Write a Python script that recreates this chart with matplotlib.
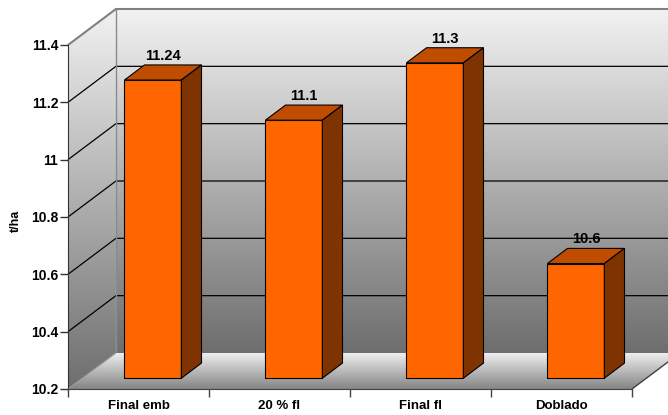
import numpy as np
import matplotlib.pyplot as plt
from matplotlib.patches import Polygon
from matplotlib.colors import LinearSegmentedColormap

# ---- data ----
categories = ["Final emb", "20 % fl", "Final fl", "Doblado"]
values = [11.24, 11.1, 11.3, 10.6]
value_labels = ["11.24", "11.1", "11.3", "10.6"]
y_ticks = [10.2, 10.4, 10.6, 10.8, 11.0, 11.2, 11.4]
y_tick_labels = ["10.2", "10.4", "10.6", "10.8", "11", "11.2", "11.4"]
y_label = "t/ha"

# ---- 3d look ----
Y_MIN, Y_MAX = 10.2, 11.4
N = len(categories)
DX, DY = 0.34, 0.1256          # depth offset of the back wall (data units)
BAR_W = 0.404
BAR_Z0, BAR_DZ = 0.30, 0.42    # bar position / thickness in depth
FRONT, TOP, SIDE = "#FF6600", "#C04C00", "#7F3300"
WALL = ["#6E6E6E", "#F2F2F2"]
FLOOR = ["#848484", "#F2F2F2"]

plt.rcParams["font.family"] = ["Liberation Sans", "DejaVu Sans"]
plt.rcParams["font.weight"] = "bold"

fig = plt.figure(figsize=(6.68, 4.15), dpi=100)
ax = fig.add_axes([68 / 668, 26 / 415, 564 / 668, 344 / 415])
ax.set_xlim(0, N)
ax.set_ylim(Y_MIN, Y_MAX)
ax.set_autoscale_on(False)
ax.patch.set_visible(False)


def shade(pts, y0, y1, x0, x1, colors, z):
    clip = Polygon(pts, closed=True, transform=ax.transData)
    cmap = LinearSegmentedColormap.from_list("g", colors)
    grad = np.linspace(0, 1, 256).reshape(-1, 1)
    im = ax.imshow(grad, cmap=cmap, extent=(x0, x1, y0, y1), origin="lower",
                   aspect="auto", interpolation="bilinear", zorder=z)
    im.set_clip_path(clip)
    im.set_clip_box(fig.bbox)


def line(xs, ys, **kw):
    ax.plot(xs, ys, clip_on=False, solid_capstyle="butt", **kw)


right = N + 2 * DX
# back wall
shade([(DX, Y_MIN + DY), (right, Y_MIN + DY), (right, Y_MAX + DY), (DX, Y_MAX + DY)],
      Y_MIN + DY, Y_MAX + DY, DX, right, WALL, 0)
# side wall
shade([(0, Y_MIN), (DX, Y_MIN + DY), (DX, Y_MAX + DY), (0, Y_MAX)],
      Y_MIN, Y_MAX + DY, 0, DX, WALL, 0)
# floor
shade([(0, Y_MIN), (N, Y_MIN), (N + DX, Y_MIN + DY), (DX, Y_MIN + DY)],
      Y_MIN, Y_MIN + DY, 0, N + DX, FLOOR, 2)

# gridlines on walls
for v in y_ticks[1:-1]:
    line([0, DX, right], [v, v + DY, v + DY], color="black", lw=0.9, zorder=1)
line([0, DX, right], [Y_MAX, Y_MAX + DY, Y_MAX + DY], color="#808080", lw=1.5, zorder=1)
line([DX, DX], [Y_MIN + DY, Y_MAX + DY], color="#8A8A8A", lw=1.0, zorder=1)
line([0, DX], [Y_MIN, Y_MIN + DY], color="#9A9A9A", lw=0.8, zorder=3)
line([N, N + DX], [Y_MIN, Y_MIN + DY], color="#404040", lw=1.0, zorder=3)

# bars
for i, (v, lab) in enumerate(zip(values, value_labels)):
    c = i + 0.5
    xl = c - BAR_W / 2 + BAR_Z0 * DX
    xr = c + BAR_W / 2 + BAR_Z0 * DX
    yb = Y_MIN + BAR_Z0 * DY
    yt = v + BAR_Z0 * DY
    ddx, ddy = BAR_DZ * DX, BAR_DZ * DY
    faces = [
        ([(xl, yb), (xr, yb), (xr, yt), (xl, yt)], FRONT),
        ([(xl, yt), (xr, yt), (xr + ddx, yt + ddy), (xl + ddx, yt + ddy)], TOP),
        ([(xr, yb), (xr + ddx, yb + ddy), (xr + ddx, yt + ddy), (xr, yt)], SIDE),
    ]
    for pts, col in faces:
        ax.add_patch(Polygon(pts, closed=True, fc=col, ec="black", lw=0.8,
                             joinstyle="miter", clip_on=False, zorder=4))
    zc = BAR_Z0 + BAR_DZ / 2
    ax.annotate(lab, (c + zc * DX, v + zc * DY), xytext=(0, 12),
                textcoords="offset points", ha="center", va="center",
                fontsize=10.5, fontweight="bold", zorder=6,
                annotation_clip=False)

# axes
for s in ["top", "right"]:
    ax.spines[s].set_visible(False)
ax.spines["left"].set_color("#333333")
ax.spines["bottom"].set_color("#444444")
ax.spines["left"].set_zorder(5)
ax.spines["bottom"].set_zorder(5)

ax.set_yticks(y_ticks)
ax.set_yticklabels(y_tick_labels)
ax.tick_params(axis="y", length=6, width=1, color="#333333", pad=1,
               labelsize=10)
ax.set_xticks(np.arange(N + 1))
ax.set_xticklabels([])
ax.tick_params(axis="x", which="major", length=6, width=1, color="#444444")
ax.set_xticks(np.arange(N) + 0.5, minor=True)
ax.set_xticklabels(categories, minor=True, fontsize=9.5, fontweight="bold")
ax.tick_params(axis="x", which="minor", length=0, pad=8)
for t in ax.get_yticklabels():
    t.set_fontweight("bold")

ax.set_ylabel(y_label, fontsize=9, fontweight="bold")
ax.yaxis.set_label_coords(-0.082, 0.49)

fig.savefig("out.png", dpi=100)
